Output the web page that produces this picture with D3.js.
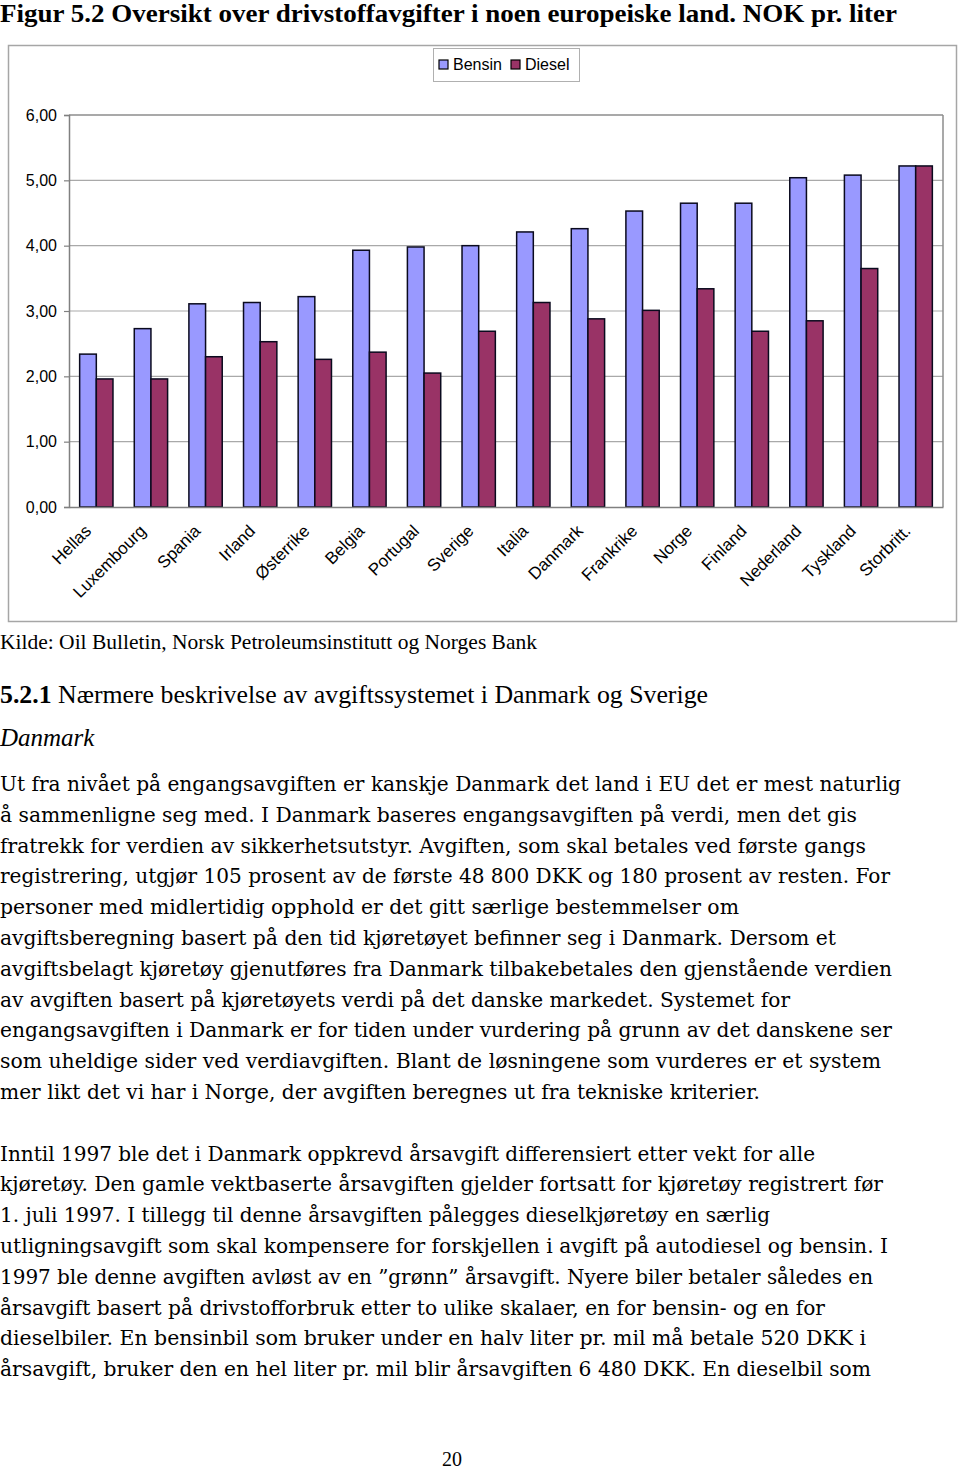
<!DOCTYPE html>
<html>
<head>
<meta charset="utf-8">
<script src="https://cdn.jsdelivr.net/npm/d3@7"></script>
<style>
  html, body { margin: 0; padding: 0; background: #fff; }
  svg { display: block; }
</style>
</head>
<body>
<svg id="page" width="960" height="1469"></svg>
<script>
// ---------- DATA ----------
const categories = ["Hellas","Luxembourg","Spania","Irland","Østerrike","Belgia","Portugal","Sverige","Italia","Danmark","Frankrike","Norge","Finland","Nederland","Tyskland","Storbritt."];
const bensin = [2.34,2.73,3.11,3.13,3.22,3.93,3.98,4.00,4.21,4.26,4.53,4.65,4.65,5.04,5.08,5.22];
const diesel = [1.96,1.96,2.30,2.53,2.26,2.37,2.05,2.69,3.13,2.88,3.01,3.34,2.69,2.85,3.65,5.22];
const seriesNames = ["Bensin","Diesel"];
const yTicks = [0,1,2,3,4,5,6];

const titleText = "Figur 5.2 Oversikt over drivstoffavgifter i noen europeiske land. NOK pr. liter";
const sourceText = "Kilde: Oil Bulletin, Norsk Petroleumsinstitutt og Norges Bank";
const para1 = [
 "Ut fra nivået på engangsavgiften er kanskje Danmark det land i EU det er mest naturlig",
 "å sammenligne seg med. I Danmark baseres engangsavgiften på verdi, men det gis",
 "fratrekk for verdien av sikkerhetsutstyr. Avgiften, som skal betales ved første gangs",
 "registrering, utgjør 105 prosent av de første 48 800 DKK og 180 prosent av resten. For",
 "personer med midlertidig opphold er det gitt særlige bestemmelser om",
 "avgiftsberegning basert på den tid kjøretøyet befinner seg i Danmark. Dersom et",
 "avgiftsbelagt kjøretøy gjenutføres fra Danmark tilbakebetales den gjenstående verdien",
 "av avgiften basert på kjøretøyets verdi på det danske markedet. Systemet for",
 "engangsavgiften i Danmark er for tiden under vurdering på grunn av det danskene ser",
 "som uheldige sider ved verdiavgiften. Blant de løsningene som vurderes er et system",
 "mer likt det vi har i Norge, der avgiften beregnes ut fra tekniske kriterier."
];
const para2 = [
 "Inntil 1997 ble det i Danmark oppkrevd årsavgift differensiert etter vekt for alle",
 "kjøretøy. Den gamle vektbaserte årsavgiften gjelder fortsatt for kjøretøy registrert før",
 "1. juli 1997. I tillegg til denne årsavgiften pålegges dieselkjøretøy en særlig",
 "utligningsavgift som skal kompensere for forskjellen i avgift på autodiesel og bensin. I",
 "1997 ble denne avgiften avløst av en ”grønn” årsavgift. Nyere biler betaler således en",
 "årsavgift basert på drivstofforbruk etter to ulike skalaer, en for bensin- og en for",
 "dieselbiler. En bensinbil som bruker under en halv liter pr. mil må betale 520 DKK i",
 "årsavgift, bruker den en hel liter pr. mil blir årsavgiften 6 480 DKK. En dieselbil som"
];
const para1Widths = [901,857,866,890,739,836,892,790,892,881,760];
const para2Widths = [815,883,770,888,873,825,866,871];

// ---------- LAYOUT ----------
const svg = d3.select("#page");
const colors = {Bensin: "#9999ff", Diesel: "#993366"};
const frame = {x: 8.5, y: 45.5, w: 948, h: 576};
const plot = {left: 69, right: 943, top: 115, bottom: 507};

// Title
svg.append("text")
  .attr("x", 0).attr("y", 22)
  .attr("font-family", "Liberation Serif, serif")
  .attr("font-weight", "bold")
  .attr("font-size", 25)
  .attr("textLength", 897).attr("lengthAdjust", "spacingAndGlyphs")
  .text(titleText);

// Chart frame
svg.append("rect")
  .attr("x", frame.x).attr("y", frame.y).attr("width", frame.w).attr("height", frame.h)
  .attr("fill", "#fff").attr("stroke", "#a6a6a6").attr("stroke-width", 1.5);

const x = d3.scaleBand().domain(categories).range([plot.left, plot.right]).padding(0);
const y = d3.scaleLinear().domain([0, 6]).range([plot.bottom, plot.top]);

const g = svg.append("g");

// gridlines
g.selectAll("line.grid").data(yTicks.filter(d => d > 0)).join("line")
  .attr("x1", plot.left).attr("x2", plot.right)
  .attr("y1", d => y(d)).attr("y2", d => y(d))
  .attr("stroke", d => d === 6 ? "#8c8c8c" : "#a9a9a9").attr("stroke-width", d => d === 6 ? 1.5 : 1.2);
// right border
g.append("line").attr("x1", plot.right).attr("x2", plot.right)
  .attr("y1", y(6)).attr("y2", y(0)).attr("stroke", "#8c8c8c").attr("stroke-width", 1.5);

// y axis
const yAxis = d3.axisLeft(y).tickValues(yTicks).tickSize(5).tickPadding(7)
  .tickFormat(d => d3.format(".2f")(d).replace(".", ","));
const ya = g.append("g").attr("transform", `translate(${plot.left},0)`).call(yAxis);
ya.select(".domain").attr("stroke", "#808080").attr("stroke-width", 1.5);
ya.selectAll(".tick line").attr("stroke", "#808080").attr("stroke-width", 1.2);
ya.selectAll(".tick text").attr("font-family", "Liberation Sans, Arial, sans-serif")
  .attr("font-size", 16).attr("fill", "#000");

// bars
const bw = x.bandwidth();
const barW = bw * 0.305;
const off = bw * 0.195;
const bars = g.append("g");
categories.forEach((c, i) => {
  [bensin[i], diesel[i]].forEach((v, j) => {
    bars.append("rect")
      .attr("x", x(c) + off + j * barW)
      .attr("y", y(v))
      .attr("width", barW)
      .attr("height", y(0) - y(v))
      .attr("fill", colors[seriesNames[j]])
      .attr("stroke", "#0a0a1e").attr("stroke-width", 1.5);
  });
});

// x axis
const xAxis = d3.axisBottom(x).tickSize(0).tickPadding(0);
const xa = g.append("g").attr("transform", `translate(0,${plot.bottom})`).call(xAxis);
xa.select(".domain").attr("stroke", "#808080").attr("stroke-width", 1.5);
xa.selectAll(".tick text")
  .attr("font-family", "Liberation Sans, Arial, sans-serif")
  .attr("font-size", 17).attr("fill", "#000")
  .attr("text-anchor", "end")
  .attr("transform", "translate(-4,25) rotate(-45)")
  .attr("y", 0).attr("dy", 0);

// legend
const lg = svg.append("g");
lg.append("rect").attr("x", 433.5).attr("y", 48.5).attr("width", 146).attr("height", 33)
  .attr("fill", "#fff").attr("stroke", "#b0b0b0").attr("stroke-width", 1);
const legX = [439, 511];
seriesNames.forEach((s, i) => {
  lg.append("rect").attr("x", legX[i]).attr("y", 60).attr("width", 9).attr("height", 9)
    .attr("fill", colors[s]).attr("stroke", "#000").attr("stroke-width", 1.2);
  lg.append("text").attr("x", legX[i] + 14).attr("y", 70)
    .attr("font-family", "Liberation Sans, Arial, sans-serif").attr("font-size", 16)
    .text(s);
});

// Source
svg.append("text").attr("x", 0).attr("y", 649)
  .attr("font-family", "Liberation Serif, serif").attr("font-size", 22)
  .attr("textLength", 537).attr("lengthAdjust", "spacingAndGlyphs")
  .text(sourceText);

// Heading
const h = svg.append("text").attr("x", 0).attr("y", 703)
  .attr("font-family", "Liberation Serif, serif").attr("font-size", 25)
  .attr("textLength", 708).attr("lengthAdjust", "spacingAndGlyphs");
h.append("tspan").attr("font-weight", "bold").text("5.2.1");
h.append("tspan").text("  Nærmere beskrivelse av avgiftssystemet i Danmark og Sverige");

svg.append("text").attr("x", 0).attr("y", 746)
  .attr("font-family", "Liberation Serif, serif").attr("font-size", 25).attr("font-style", "italic")
  .text("Danmark");

// Body text
const bodyFont = "DejaVu Serif, serif";
const bodySize = 21;
const lineH = 30.8;
function para(lines, widths, y0) {
  lines.forEach((t, i) => {
    svg.append("text").attr("x", 0).attr("y", y0 + i * lineH)
      .attr("font-family", bodyFont).attr("font-size", bodySize)
      .attr("textLength", widths[i]).attr("lengthAdjust", "spacingAndGlyphs")
      .attr("fill", "#000")
      .text(t);
  });
}
para(para1, para1Widths, 791);
para(para2, para2Widths, 1160.6);

// Page number
svg.append("text").attr("x", 452).attr("y", 1466).attr("text-anchor", "middle")
  .attr("font-family", "Liberation Serif, serif").attr("font-size", 20).text("20");
</script>
</body>
</html>
